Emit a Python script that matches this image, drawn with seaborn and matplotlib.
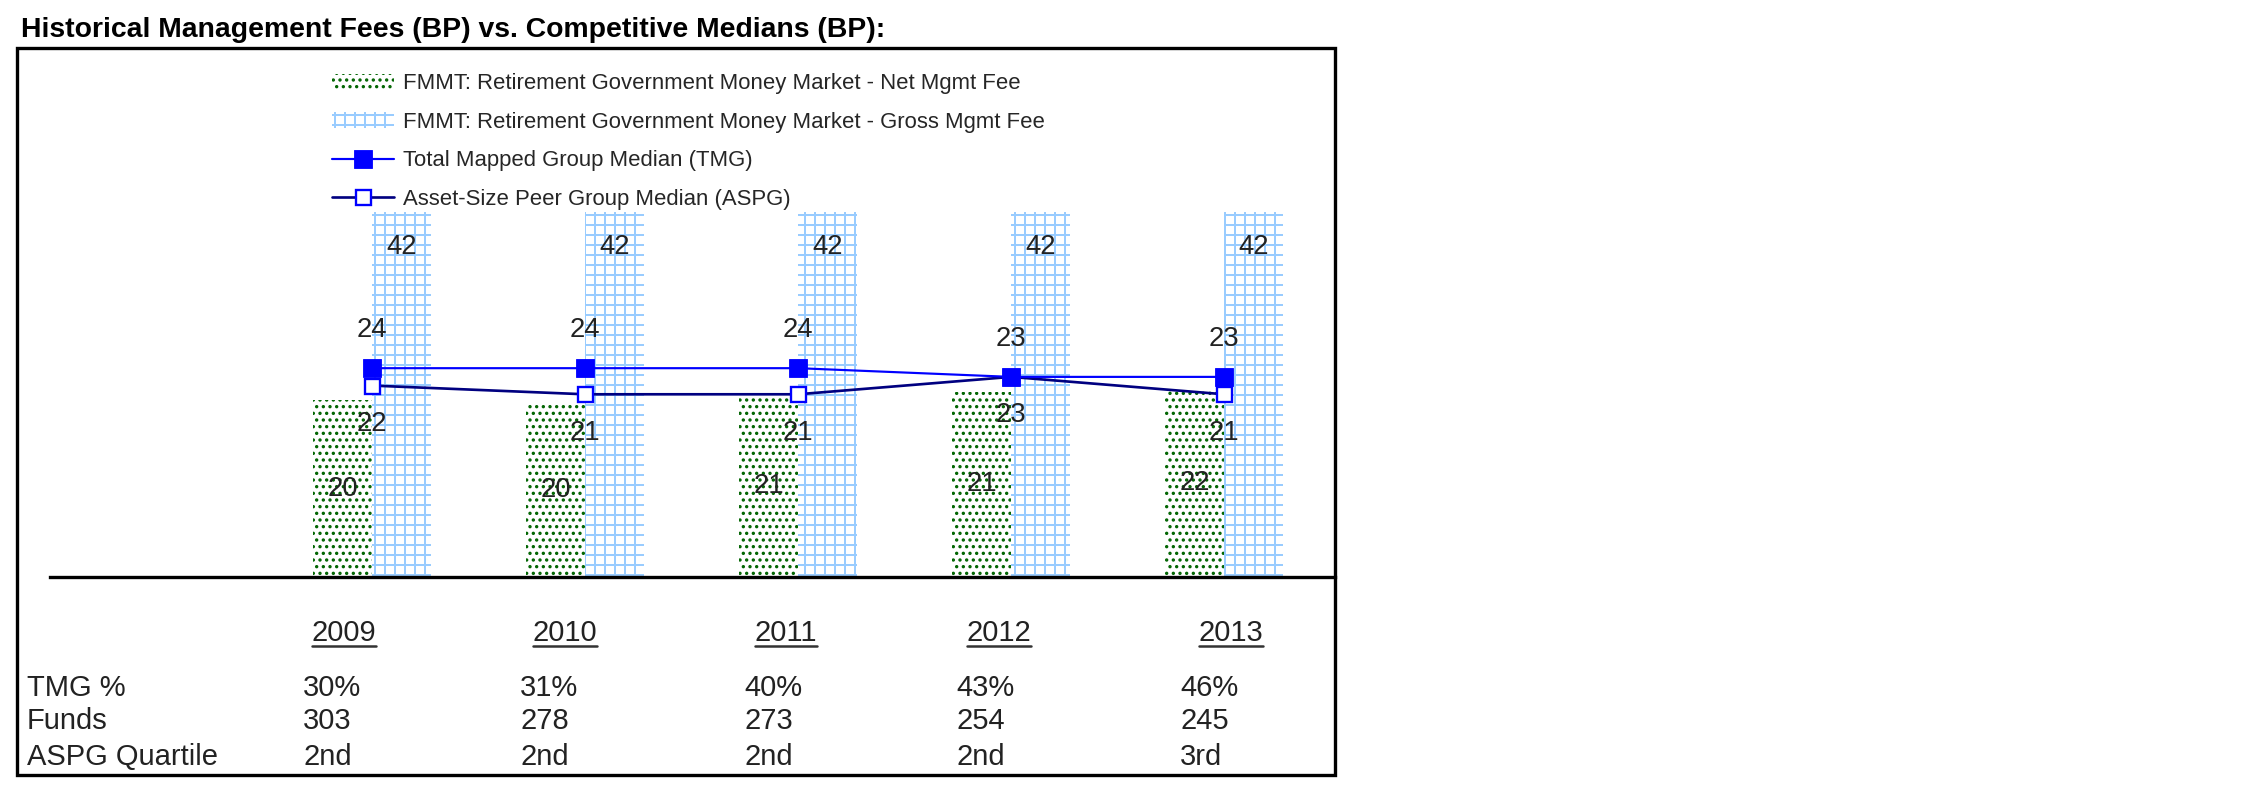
import numpy as np
import pandas as pd
import seaborn as sns
import matplotlib
import matplotlib.pyplot as plt
from matplotlib.patches import Patch, Rectangle
from matplotlib.lines import Line2D

matplotlib.use('Agg')

# data
years = ['2009', '2010', '2011', '2012', '2013']
net_fee = [20.3, 20.1, 20.9, 21.3, 21.6]
gross_fee = [42, 42, 42, 42, 42]
tmg_median = [24, 24, 24, 23, 23]
aspg_median = [22, 21, 21, 23, 21]
tmg_pct = ['30%', '31%', '40%', '43%', '46%']
funds = [303, 278, 273, 254, 245]
aspg_quartile = ['2nd', '2nd', '2nd', '2nd', '3rd']

series_names = [
    'FMMT: Retirement Government Money Market - Net Mgmt Fee',
    'FMMT: Retirement Government Money Market - Gross Mgmt Fee',
    'Total Mapped Group Median (TMG)',
    'Asset-Size Peer Group Median (ASPG)',
]
row_labels = ['TMG %', 'Funds', 'ASPG Quartile']
title = 'Historical Management Fees (BP) vs. Competitive Medians (BP):'

# colours
GREEN = '#006400'
LBLUE = '#99CCFF'
BLUE = '#0000FF'
NAVY = '#000080'

W, H, DPI = 2251, 798, 120

sns.set_theme(style='white')
plt.rcParams['font.family'] = ['Liberation Sans', 'DejaVu Sans']
plt.rcParams['hatch.linewidth'] = 1.2


def fx(px):
    return px / W


def fy(py):
    return 1 - py / H


fig = plt.figure(figsize=(W / DPI, H / DPI), dpi=DPI)
fig.patch.set_facecolor('white')

ax = fig.add_axes([fx(50), fy(577), fx(1335) - fx(50), fy(48) - fy(577)])
ax.set_facecolor('none')

# bars
df = pd.DataFrame({
    'year': years * 2,
    'fee': net_fee + gross_fee,
    'series': [series_names[0]] * len(years) + [series_names[1]] * len(years),
})
sns.barplot(data=df, x='year', y='fee', hue='series', ax=ax, width=0.554,
            errorbar=None, legend=False, saturation=1,
            palette=[GREEN, LBLUE])

green_bars, blue_bars = ax.containers[0], ax.containers[1]
for bar in green_bars:
    bar.set_facecolor('white')
    bar.set_edgecolor(GREEN)
    bar.set_linewidth(0)
    bar.set_hatch('...')
for bar in blue_bars:
    bar.set_facecolor('white')
    bar.set_edgecolor(LBLUE)
    bar.set_linewidth(0)
    bar.set_hatch('++')

# median lines
xpos = np.arange(len(years))
aspg_style = dict(color=NAVY, linewidth=1.6, marker='s', markersize=9,
                  markerfacecolor='white', markeredgecolor=BLUE,
                  markeredgewidth=1.4)
tmg_style = dict(color=BLUE, linewidth=1.3, marker='s', markersize=10.8,
                 markerfacecolor=BLUE, markeredgecolor=BLUE,
                 markeredgewidth=0.5)
sns.lineplot(x=xpos, y=aspg_median, ax=ax, legend=False, **aspg_style)
sns.lineplot(x=xpos, y=tmg_median, ax=ax, legend=False, **tmg_style)

# value labels
lab_kw = dict(textcoords='offset points', ha='center', va='center',
              fontsize=16.5, color='#222222')
for bar, v in zip(green_bars, net_fee):
    ax.annotate(f'{v:.0f}', (bar.get_x() + bar.get_width() / 2, v / 2),
                xytext=(0, 0), **lab_kw)
for bar, v in zip(blue_bars, gross_fee):
    ax.annotate(f'{v:.0f}', (bar.get_x() + bar.get_width() / 2, v),
                xytext=(0, -21), **lab_kw)
for x, v in zip(xpos, tmg_median):
    ax.annotate(f'{v}', (x, v), xytext=(0, 23), **lab_kw)
for x, v in zip(xpos, aspg_median):
    ax.annotate(f'{v}', (x, v), xytext=(0, -23), **lab_kw)

ax.set_xlim(-1.512, 4.521)
ax.set_ylim(0, 60.8)
ax.set_xticks([])
ax.set_yticks([])
ax.set_xlabel('')
ax.set_ylabel('')
for side in ['top', 'left', 'right']:
    ax.spines[side].set_visible(False)
ax.spines['bottom'].set_color('black')
ax.spines['bottom'].set_linewidth(2)

# legend
handles = [
    Patch(facecolor='white', edgecolor=GREEN, hatch='...', linewidth=0),
    Patch(facecolor='white', edgecolor=LBLUE, hatch='++', linewidth=0),
    Line2D([], [], **tmg_style),
    Line2D([], [], **aspg_style),
]
ax.legend(handles, series_names, loc='upper left',
          bbox_to_anchor=(fx(332), fy(73)), bbox_transform=fig.transFigure,
          frameon=False, fontsize=13.25, handlelength=2.8, handletextpad=0.4,
          labelspacing=0.8, borderpad=0, borderaxespad=0)

# title and frame
fig.text(fx(21), fy(30), title, fontsize=17, fontweight='bold',
         ha='left', va='center', color='black')
fig.add_artist(Rectangle((fx(17), fy(775)), fx(1335) - fx(17),
                         fy(48) - fy(775), transform=fig.transFigure,
                         fill=False, linewidth=2, edgecolor='black'))

# table under the chart
year_x = [344, 565, 786, 999, 1231]
value_x = [303, 520, 744, 956, 1180]
row_y = [688, 721, 757]
tbl_kw = dict(fontsize=17.5, color='#222222', va='center')
year_texts = [fig.text(fx(x), fy(633), yr, ha='center', **tbl_kw)
              for x, yr in zip(year_x, years)]
for y, lbl in zip(row_y, row_labels):
    fig.text(fx(27), fy(y), lbl, ha='left', **tbl_kw)
rows = [tmg_pct, [str(f) for f in funds], aspg_quartile]
for y, vals in zip(row_y, rows):
    for x, v in zip(value_x, vals):
        fig.text(fx(x), fy(y), v, ha='left', **tbl_kw)

# underline the year headers
fig.canvas.draw()
renderer = fig.canvas.get_renderer()
for t in year_texts:
    bb = t.get_window_extent(renderer).transformed(fig.transFigure.inverted())
    fig.add_artist(Line2D([bb.x0, bb.x1], [fy(646), fy(646)],
                          transform=fig.transFigure, color='#333333',
                          linewidth=1.5))

fig.savefig('out.png', dpi=DPI)
